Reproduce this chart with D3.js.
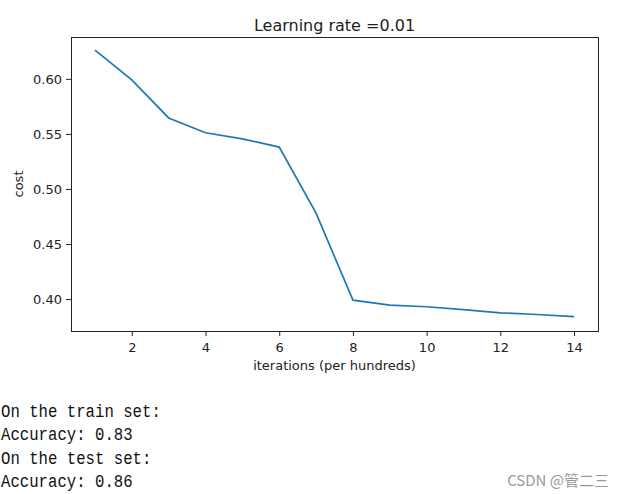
<!DOCTYPE html>
<head>
<meta charset="utf-8">
<title>Learning rate</title>
<script src="https://cdn.jsdelivr.net/npm/d3@7"></script>
<style>
body { margin: 0; background: #fff; }
.axis text { font-family: "DejaVu Sans", sans-serif; font-size: 13px; fill: #222; }
.axis path, .axis line { stroke: #222; }
</style>
</head>
<body>
<div id="container"></div>
<script>
// data
const iterations = [1, 2, 3, 4, 5, 6, 7, 8, 9, 10, 11, 12, 13, 14];
const costs = [0.626, 0.599, 0.5645, 0.551, 0.5455, 0.538, 0.478, 0.399, 0.3945, 0.393, 0.3905, 0.3875, 0.386, 0.384];
const xTicks = [2, 4, 6, 8, 10, 12, 14];
const yTicks = [0.40, 0.45, 0.50, 0.55, 0.60];
const outputLines = ["On the train set:", "Accuracy: 0.83", "On the test set:", "Accuracy: 0.86"];

const width = 624, height = 494;
const plot = {left: 71, top: 37, right: 598, bottom: 331};

const svg = d3.select("#container").append("svg")
    .attr("width", width)
    .attr("height", height);

// matplotlib style 5% margins
const x = d3.scaleLinear().domain([0.35, 14.65]).range([plot.left, plot.right]);
const y = d3.scaleLinear().domain([0.371, 0.638]).range([plot.bottom, plot.top]);

svg.append("g")
    .attr("class", "axis")
    .attr("transform", "translate(0," + plot.bottom + ")")
    .call(d3.axisBottom(x).tickValues(xTicks).tickSize(5).tickSizeOuter(0).tickPadding(7).tickFormat(d3.format("d")));

svg.append("g")
    .attr("class", "axis")
    .attr("transform", "translate(" + plot.left + ",0)")
    .call(d3.axisLeft(y).tickValues(yTicks).tickSize(5).tickSizeOuter(0).tickPadding(4).tickFormat(d3.format(".2f")));

// frame
svg.append("rect")
    .attr("x", plot.left + 0.5)
    .attr("y", plot.top + 0.5)
    .attr("width", plot.right - plot.left)
    .attr("height", plot.bottom - plot.top)
    .attr("fill", "none")
    .attr("stroke", "#222")
    .attr("stroke-width", 1);

const line = d3.line()
    .x((d, i) => x(iterations[i]))
    .y(d => y(d));

svg.append("path")
    .datum(costs)
    .attr("d", line)
    .attr("fill", "none")
    .attr("stroke", "#1f77b4")
    .attr("stroke-width", 1.7);

// title and labels
svg.append("text")
    .attr("x", (plot.left + plot.right) / 2)
    .attr("y", 31)
    .attr("text-anchor", "middle")
    .style("font-family", "DejaVu Sans")
    .style("font-size", "16px")
    .style("fill", "#222")
    .text("Learning rate =0.01");

svg.append("text")
    .attr("x", (plot.left + plot.right) / 2)
    .attr("y", 370)
    .attr("text-anchor", "middle")
    .style("font-family", "DejaVu Sans")
    .style("font-size", "13px")
    .style("fill", "#222")
    .text("iterations (per hundreds)");

svg.append("text")
    .attr("transform", "translate(23," + ((plot.top + plot.bottom) / 2) + ") rotate(-90)")
    .attr("text-anchor", "middle")
    .style("font-family", "DejaVu Sans")
    .style("font-size", "13px")
    .style("fill", "#222")
    .text("cost");

// printed output below the chart
svg.selectAll(".out")
    .data(outputLines)
    .enter().append("text")
    .attr("class", "out")
    .attr("transform", (d, i) => "translate(1," + (417 + i * 23.3) + ") scale(0.825,1)")
    .style("font-family", "Liberation Mono, monospace")
    .style("font-size", "19px")
    .style("fill", "#111")
    .text(d => d);

svg.append("text")
    .attr("x", 609)
    .attr("y", 486)
    .attr("text-anchor", "end")
    .style("font-family", "Noto Sans CJK SC")
    .style("font-size", "15px")
    .style("fill", "#999")
    .text("CSDN @管二三");
</script>
</body>
